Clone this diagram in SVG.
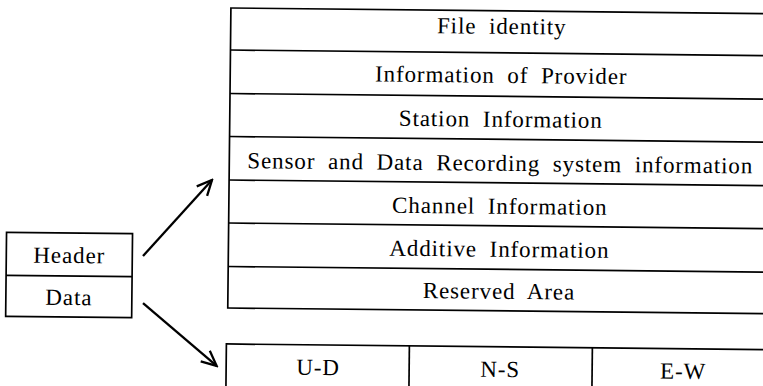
<svg xmlns="http://www.w3.org/2000/svg" width="763" height="386" viewBox="0 0 763 386">
<style>
.box{fill:none;stroke:#000;stroke-width:1.7}
.ln{stroke:#000;stroke-width:1.7}
.t{font-family:"Liberation Serif","Times New Roman",serif;font-size:23px;fill:#000;text-anchor:middle;letter-spacing:0.9px;word-spacing:6px}
.c{stroke:#000;stroke-width:2.3;fill:none}
</style>
<defs>
<marker id="ah" viewBox="0 0 18 18" refX="16" refY="9" markerWidth="18" markerHeight="18" markerUnits="userSpaceOnUse" orient="auto">
<path d="M1,2 L16,9 L1,16" fill="none" stroke="#000" stroke-width="2.3"/>
</marker>
</defs>
<rect width="763" height="386" fill="#fff"/>
<g transform="rotate(0.6 229 190)">
<g id="header-data">
<rect class="box" x="7" y="234.7" width="126" height="84"/>
<line class="ln" x1="7" y1="277.7" x2="133" y2="277.7"/>
<text class="t" x="70" y="264.7">Header</text>
<text class="t" x="70" y="306.7">Data</text>
</g>
<g id="header-fields">
<rect class="box" x="229" y="8" width="542" height="300"/>
<line class="ln" x1="229" y1="50" x2="771" y2="50"/>
<line class="ln" x1="229" y1="93.5" x2="771" y2="93.5"/>
<line class="ln" x1="229" y1="136.5" x2="771" y2="136.5"/>
<line class="ln" x1="229" y1="180" x2="771" y2="180"/>
<line class="ln" x1="229" y1="223" x2="771" y2="223"/>
<line class="ln" x1="229" y1="266.5" x2="771" y2="266.5"/>
<text class="t" x="500" y="31">File identity</text>
<text class="t" x="500" y="80">Information of Provider</text>
<text class="t" x="500" y="124">Station Information</text>
<text class="t" x="500" y="168">Sensor and Data Recording system information</text>
<text class="t" x="500" y="211">Channel Information</text>
<text class="t" x="500" y="254">Additive Information</text>
<text class="t" x="500" y="296">Reserved Area</text>
</g>
<g id="data-fields">
<rect class="box" x="228" y="344" width="548" height="60"/>
<line class="ln" x1="411" y1="344" x2="411" y2="404"/>
<line class="ln" x1="594" y1="344" x2="594" y2="404"/>
<text class="t" x="320" y="374">U-D</text>
<text class="t" x="502" y="374">N-S</text>
<text class="t" x="685" y="374">E-W</text>
</g>
<g id="connectors">
<line class="c" x1="143.7" y1="256.9" x2="211.9" y2="180.2" marker-end="url(#ah)"/>
<line class="c" x1="144.2" y1="303.9" x2="218.5" y2="366" marker-end="url(#ah)"/>
</g>
</g>
</svg>
